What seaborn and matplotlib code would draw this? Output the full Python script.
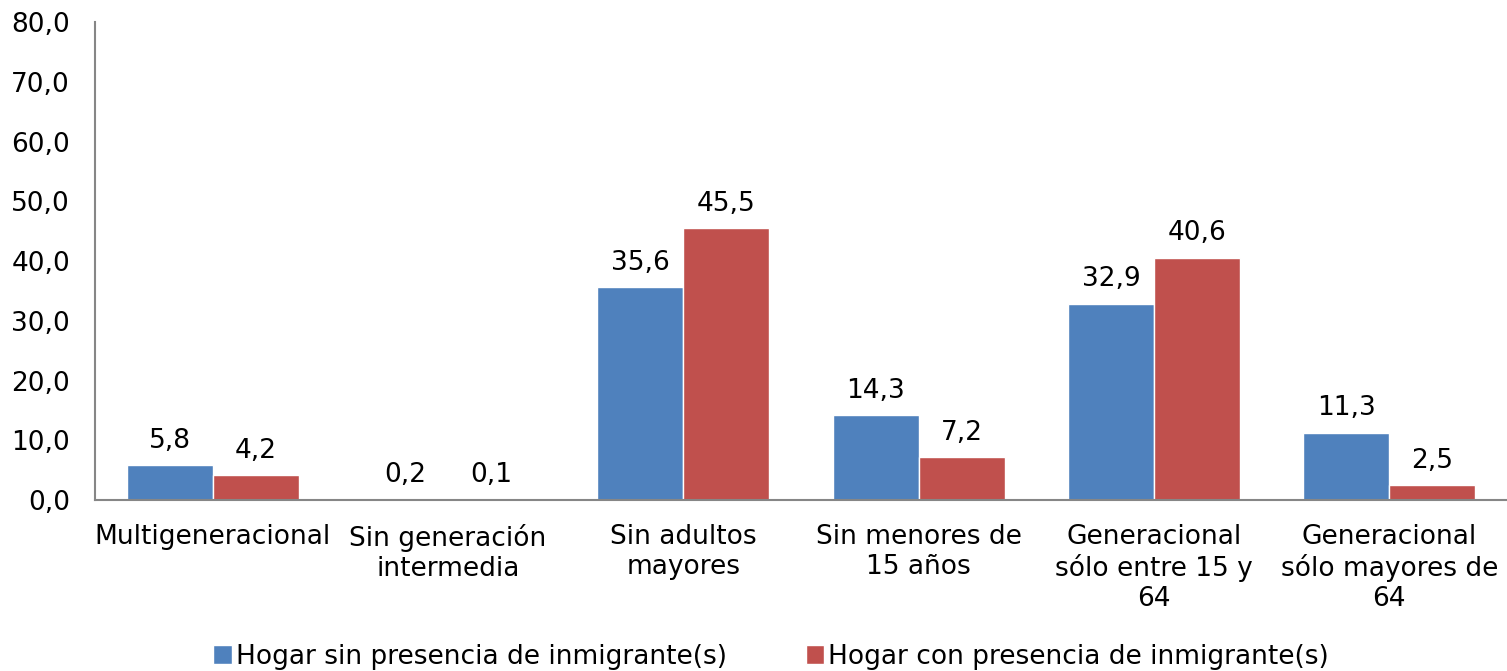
import matplotlib
matplotlib.use("Agg")
import matplotlib.pyplot as plt
import seaborn as sns
import pandas as pd

categorias = ["Multigeneracional", "Sin generación\nintermedia", "Sin adultos\nmayores",
              "Sin menores de\n15 años", "Generacional\nsólo entre 15 y\n64",
              "Generacional\nsólo mayores de\n64"]
sin_inmigrantes = [5.8, 0.2, 35.6, 14.3, 32.9, 11.3]
con_inmigrantes = [4.2, 0.1, 45.5, 7.2, 40.6, 2.5]
series = ["Hogar sin presencia de inmigrante(s)", "Hogar con presencia de inmigrante(s)"]
colores = ["#4F81BD", "#C0504D"]

df = pd.DataFrame({
    "categoria": categorias * 2,
    "valor": sin_inmigrantes + con_inmigrantes,
    "serie": [series[0]] * len(categorias) + [series[1]] * len(categorias),
})

sns.set_theme(style="white")
plt.rcParams["font.family"] = ["DejaVu Sans"]
plt.rcParams["text.color"] = "black"
fs = 19

fig = plt.figure(figsize=(15.07, 6.71), dpi=100)
ax = fig.add_axes([0.063, 0.2548, 0.937, 0.712])

sns.barplot(data=df, x="categoria", y="valor", hue="serie", palette=colores,
            width=0.73, gap=0, saturation=1, ax=ax, legend=True)

for cont in ax.containers:
    ax.bar_label(cont, labels=[f"{v:.1f}".replace(".", ",") for v in cont.datavalues],
                 padding=8, fontsize=fs, color="black")

ax.set_ylim(0, 80)
ax.set_xlim(-0.5, 5.5)
ax.set_yticks(range(0, 81, 10))
ax.set_yticklabels([f"{v},0" for v in range(0, 81, 10)], fontsize=fs)
ax.tick_params(axis="x", labelsize=fs, length=0, pad=17, labelcolor="black")
ax.tick_params(axis="y", length=0, pad=18, labelcolor="black")
ax.set_xlabel("")
ax.set_ylabel("")
for s in ["top", "right"]:
    ax.spines[s].set_visible(False)
for s in ["left", "bottom"]:
    ax.spines[s].set_color("#868686")
    ax.spines[s].set_linewidth(1.5)

ax.legend(loc="center", bbox_to_anchor=(0.479, -0.328), ncol=2, frameon=False,
          fontsize=fs, handlelength=0.7, handleheight=0.7, handletextpad=0.15,
          columnspacing=3.0, borderaxespad=0)

fig.savefig("out.png", dpi=100)
